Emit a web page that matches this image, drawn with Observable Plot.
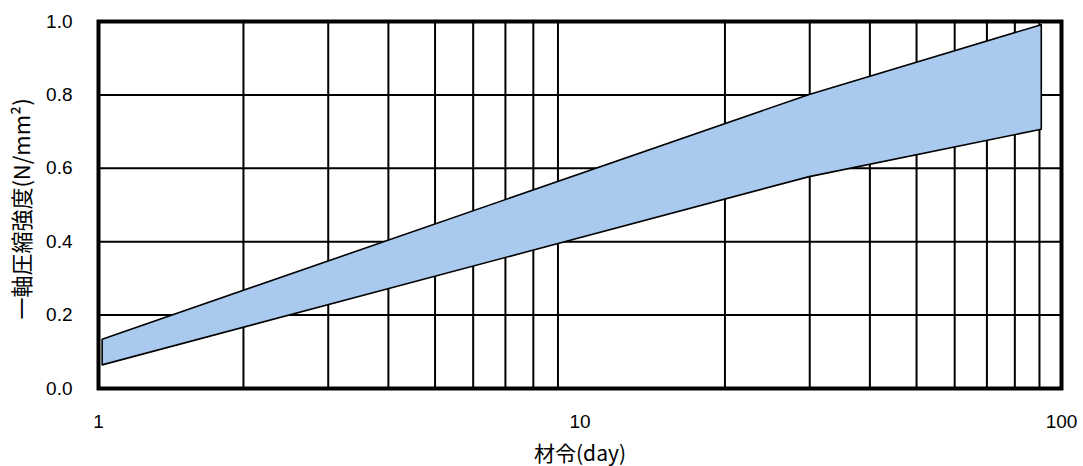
<!DOCTYPE html>
<html>
<head>
<meta charset="utf-8">
<script src="https://cdn.jsdelivr.net/npm/d3@7"></script>
<script src="https://cdn.jsdelivr.net/npm/@observablehq/plot@0.6"></script>
<style>
  html, body { margin: 0; padding: 0; background: #fff; }
</style>
</head>
<body>
<div id="chart"></div>
<script>
// Data
const days = [1.02, 30, 91];
const upper = [0.133, 0.80, 0.99];
const lower = [0.063, 0.576, 0.705];
const xTicks = [1, 10, 100];
const xGrid = [2, 3, 4, 5, 6, 7, 8, 9, 20, 30, 40, 50, 60, 70, 80, 90];
const yTicks = [0, 0.2, 0.4, 0.6, 0.8, 1.0];
const xLabel = "材令(day)";
const yLabel = "一軸圧縮強度(N/mm²)";

const band = days.map((d, i) => ({day: d, upper: upper[i], lower: lower[i]}));

const chart = Plot.plot({
  width: 1083,
  height: 466,
  marginLeft: 98,
  marginRight: 22,
  marginTop: 21,
  marginBottom: 78,
  style: {fontFamily: "'Liberation Sans', Arial, 'Noto Sans CJK JP', sans-serif", fontSize: "19px", color: "#000", background: "#fff"},
  x: {type: "log", domain: [1, 100]},
  y: {domain: [0, 1]},
  marks: [
    Plot.ruleX(xGrid, {stroke: "#000", strokeWidth: 2}),
    Plot.ruleY(yTicks, {stroke: "#000", strokeWidth: 2}),
    Plot.areaY(band, {x: "day", y1: "lower", y2: "upper", fill: "#a9caee", stroke: "#000", strokeWidth: 1.6}),
    Plot.frame({stroke: "#000", strokeWidth: 4}),
    Plot.axisX(xTicks, {tickSize: 0, tickPadding: 26, tickFormat: d => String(d), label: null, fontSize: 19}),
    Plot.axisY(yTicks, {tickSize: 0, tickPadding: 26, tickFormat: d => d.toFixed(1), label: null, fontSize: 19}),
    Plot.text([xLabel], {frameAnchor: "bottom", dy: 66, lineAnchor: "middle", textAnchor: "middle", fontFamily: "'Noto Sans CJK JP', sans-serif", fontSize: 21, fill: "#000"}),
    Plot.text([yLabel], {frameAnchor: "left", dx: -76, dy: 4, rotate: -90, lineAnchor: "middle", textAnchor: "middle", fontFamily: "'Noto Sans CJK JP', sans-serif", fontSize: 22, fill: "#000"})
  ]
});
document.getElementById("chart").appendChild(chart);
</script>
</body>
</html>
